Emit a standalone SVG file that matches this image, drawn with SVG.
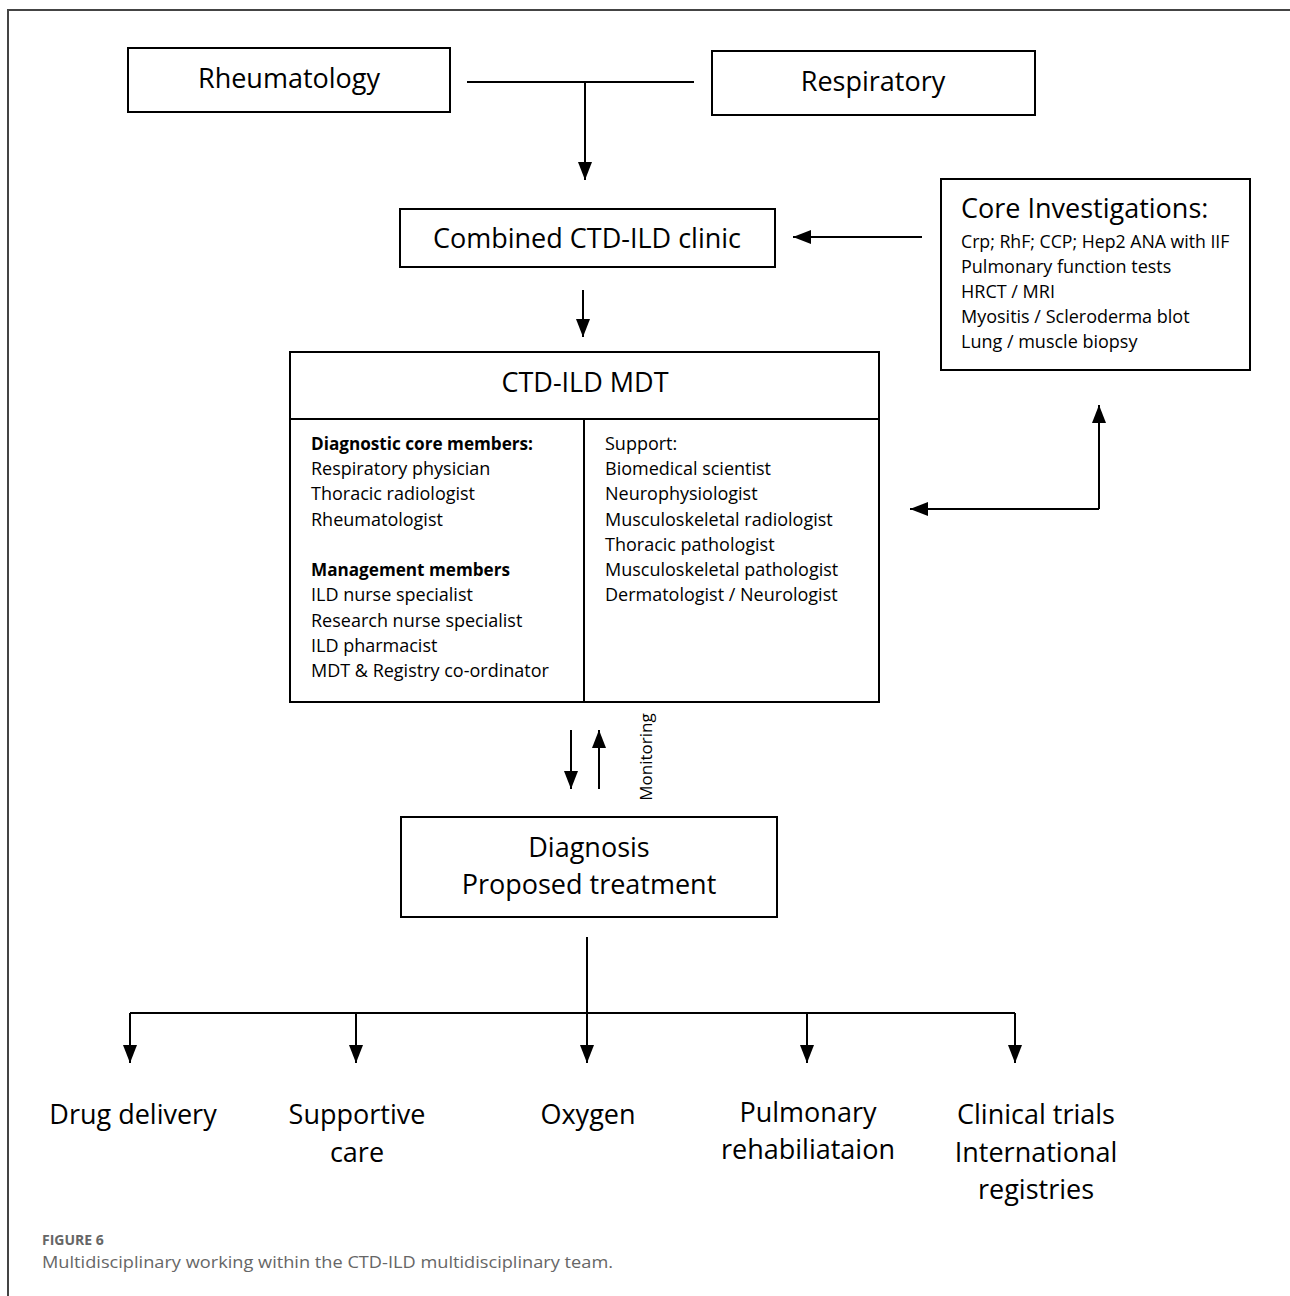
<svg xmlns="http://www.w3.org/2000/svg" width="1290" height="1296" viewBox="0 0 1290 1296">
<style>
.box{fill:#fff;stroke:#000;stroke-width:2}
.ln{fill:none;stroke:#000;stroke-width:2}
.t{font-family:"Open Sans","Liberation Sans",sans-serif;fill:#000}
.big{font-size:27px}
.sm{font-size:18px}
.mid{text-anchor:middle}
.b{font-weight:bold}
.cap{font-family:"Open Sans","Lato","Liberation Sans",sans-serif;fill:#666}
</style>
<defs>
<marker id="a" markerUnits="userSpaceOnUse" markerWidth="20" markerHeight="14" viewBox="0 0 18 14" refX="18" refY="7" orient="auto">
<path d="M0,0 L18,7 L0,14 Z" fill="#000"/>
</marker>
</defs>
<rect width="1290" height="1296" fill="#fff"/>
<path d="M8,1296 V10 H1290" fill="none" stroke="#444" stroke-width="2"/>

<g id="connectors">
<path class="ln" d="M467,82 H694"/>
<path class="ln" d="M585,82 V180" marker-end="url(#a)"/>
<path class="ln" d="M922,237 H793" marker-end="url(#a)"/>
<path class="ln" d="M583,290 V337" marker-end="url(#a)"/>
<path class="ln" d="M1099,509 V405" marker-end="url(#a)"/>
<path class="ln" d="M1099,509 H910" marker-end="url(#a)"/>
<path class="ln" d="M571,730 V789" marker-end="url(#a)"/>
<path class="ln" d="M599,789 V730" marker-end="url(#a)"/>
<path class="ln" d="M587,937 V1063" marker-end="url(#a)"/>
<path class="ln" d="M130,1013 H1015"/>
<path class="ln" d="M130,1013 V1063" marker-end="url(#a)"/>
<path class="ln" d="M356,1013 V1063" marker-end="url(#a)"/>
<path class="ln" d="M807,1013 V1063" marker-end="url(#a)"/>
<path class="ln" d="M1015,1013 V1063" marker-end="url(#a)"/>
<text class="t mid" font-size="17" x="652" y="757" transform="rotate(-90 652 757)">Monitoring</text>
</g>

<g id="rheumatology">
<rect class="box" x="128" y="48" width="322" height="64"/>
<text class="t big mid" x="289" y="88">Rheumatology</text>
</g>

<g id="respiratory">
<rect class="box" x="712" y="51" width="323" height="64"/>
<text class="t big mid" x="873" y="91">Respiratory</text>
</g>

<g id="clinic">
<rect class="box" x="400" y="209" width="375" height="58"/>
<text class="t big mid" x="587" y="248">Combined CTD-ILD clinic</text>
</g>

<g id="core">
<rect class="box" x="941" y="179" width="309" height="191"/>
<text class="t big" x="961" y="218">Core Investigations:</text>
<text class="t" font-size="17.7" x="961" y="248">Crp; RhF; CCP; Hep2 ANA with IIF</text>
<text class="t sm" x="961" y="273">Pulmonary function tests</text>
<text class="t sm" x="961" y="298">HRCT / MRI</text>
<text class="t sm" x="961" y="323">Myositis / Scleroderma blot</text>
<text class="t sm" x="961" y="348">Lung / muscle biopsy</text>
</g>

<g id="mdt">
<rect class="box" x="290" y="352" width="589" height="350"/>
<path class="ln" d="M290,419 H879 M584,419 V702"/>
<text class="t big mid" x="585" y="392">CTD-ILD MDT</text>
<text class="t sm b" x="311" y="450" textLength="222" lengthAdjust="spacingAndGlyphs">Diagnostic core members:</text>
<text class="t sm" x="311" y="475">Respiratory physician</text>
<text class="t sm" x="311" y="500">Thoracic radiologist</text>
<text class="t sm" x="311" y="526">Rheumatologist</text>
<text class="t sm b" x="311" y="576" textLength="199" lengthAdjust="spacingAndGlyphs">Management members</text>
<text class="t sm" x="311" y="601">ILD nurse specialist</text>
<text class="t sm" x="311" y="627">Research nurse specialist</text>
<text class="t sm" x="311" y="652">ILD pharmacist</text>
<text class="t sm" x="311" y="677">MDT &amp; Registry co-ordinator</text>
<text class="t sm" x="605" y="450">Support:</text>
<text class="t sm" x="605" y="475">Biomedical scientist</text>
<text class="t sm" x="605" y="500">Neurophysiologist</text>
<text class="t sm" x="605" y="526">Musculoskeletal radiologist</text>
<text class="t sm" x="605" y="551">Thoracic pathologist</text>
<text class="t sm" x="605" y="576">Musculoskeletal pathologist</text>
<text class="t sm" x="605" y="601">Dermatologist / Neurologist</text>
</g>

<g id="diagnosis">
<rect class="box" x="401" y="817" width="376" height="100"/>
<text class="t big mid" x="589" y="857">Diagnosis</text>
<text class="t big mid" x="589" y="894">Proposed treatment</text>
</g>

<g id="drug">
<text class="t big mid" x="133" y="1124">Drug delivery</text>
</g>
<g id="supportive">
<text class="t big mid" x="357" y="1124">Supportive</text>
<text class="t big mid" x="357" y="1162">care</text>
</g>
<g id="oxygen">
<text class="t big mid" x="588" y="1124">Oxygen</text>
</g>
<g id="pulmonary">
<text class="t big mid" x="808" y="1122">Pulmonary</text>
<text class="t big mid" x="808" y="1159">rehabiliataion</text>
</g>
<g id="trials">
<text class="t big mid" x="1036" y="1124">Clinical trials</text>
<text class="t big mid" x="1036" y="1162">International</text>
<text class="t big mid" x="1036" y="1199">registries</text>
</g>

<g id="caption">
<text class="cap" font-size="14" font-weight="bold" x="42" y="1245">FIGURE 6</text>
<text class="cap" font-size="17" x="42" y="1268" textLength="571" lengthAdjust="spacingAndGlyphs">Multidisciplinary working within the CTD-ILD multidisciplinary team.</text>
</g>
</svg>
